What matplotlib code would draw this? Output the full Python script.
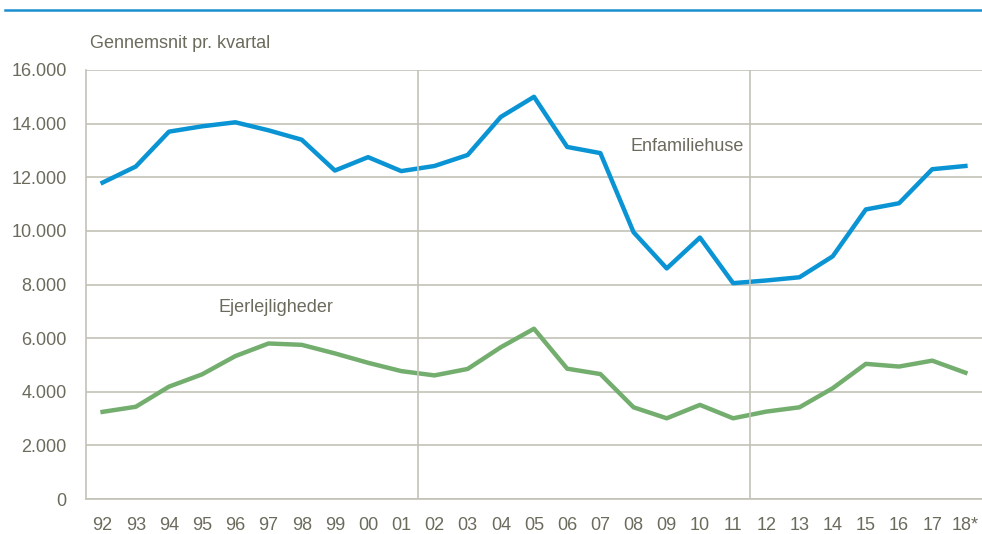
import numpy as np
import matplotlib
matplotlib.use('Agg')
import matplotlib.pyplot as plt
from matplotlib.lines import Line2D

plt.rcParams['font.family'] = ['Liberation Sans', 'DejaVu Sans']

years = ['92','93','94','95','96','97','98','99','00','01','02','03','04','05',
         '06','07','08','09','10','11','12','13','14','15','16','17','18*']
enfamiliehuse = [11800,12400,13700,13900,14050,13750,13400,12250,12750,12230,
                 12420,12830,14250,15000,13130,12900,9950,8600,9750,8050,
                 8150,8270,9050,10800,11030,12300,12420]
ejerlejligheder = [3250,3440,4190,4650,5330,5800,5750,5430,5080,4770,
                   4610,4850,5660,6350,4860,4660,3420,3010,3510,3010,
                   3260,3420,4130,5040,4940,5160,4710]

txt = '#6b6b5d'
grid = '#c3c2b8'
fs = 13

fig = plt.figure(figsize=(9.82, 5.34), dpi=100)
ax = fig.add_axes([86/982, 1-499/534, 896/982, 429/534])

x = np.arange(len(years))
ax.plot(x, enfamiliehuse, color='#0a94d4', lw=3.2)
ax.plot(x, ejerlejligheder, color='#74ae6f', lw=3.2)

ax.set_xlim(-0.5, len(years)-0.5)
ax.set_ylim(0, 16000)
ax.set_yticks(np.arange(0, 16001, 2000))
ax.set_yticklabels(['0'] + [f'{v//1000}.000' for v in range(2000, 16001, 2000)])
ax.set_xticks(x)
ax.set_xticklabels(years)
ax.tick_params(length=0, labelsize=fs, colors=txt)
ax.tick_params(axis='x', pad=13)
ax.tick_params(axis='y', pad=14)
ax.grid(axis='y', color=grid, lw=1.2)
for b in [9.5, 19.5]:
    ax.axvline(b, color=grid, lw=1.2)
ax.set_axisbelow(True)
for s in ['top', 'right']:
    ax.spines[s].set_visible(False)
for s in ['left', 'bottom']:
    ax.spines[s].set_color(grid)
    ax.spines[s].set_linewidth(1.2)

ax.text(15.9, 13150, 'Enfamiliehuse', color=txt, fontsize=fs, va='center')
ax.text(3.5, 7150, 'Ejerlejligheder', color=txt, fontsize=fs, va='center')

fig.text(90/982, 1-44/534, 'Gennemsnit pr. kvartal', color=txt, fontsize=fs, va='center')
fig.add_artist(Line2D([5/982, 1], [1-10/534, 1-10/534], color='#1a8fd0', lw=1.8))

fig.savefig('out.png', dpi=100)
